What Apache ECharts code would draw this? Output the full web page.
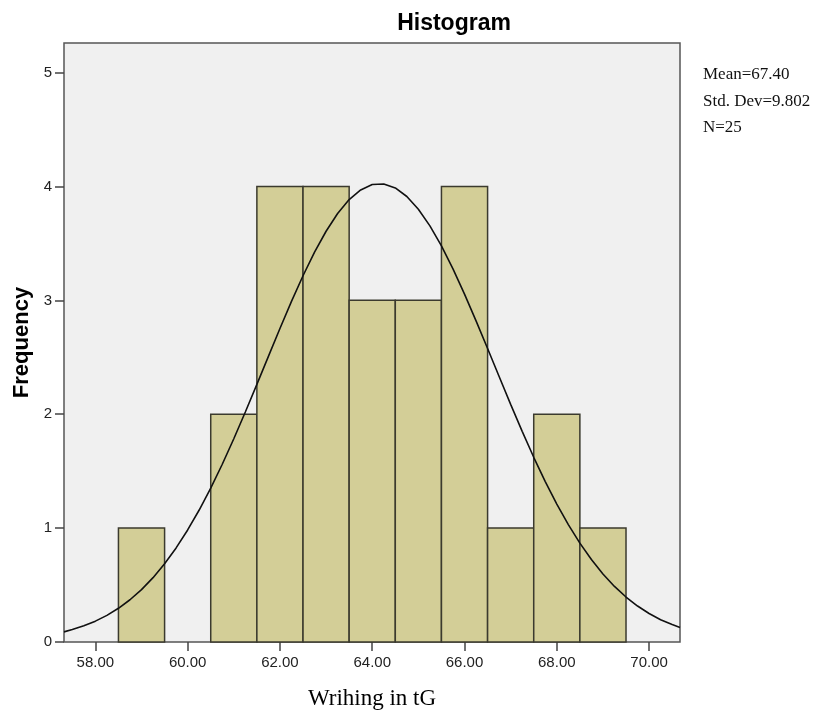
<!DOCTYPE html>
<html lang="en">
	<head>
		<meta charset="UTF-8">
		<title>Histogram</title>
		<script src="https://cdn.jsdelivr.net/npm/echarts@6/dist/echarts.min.js"></script>
		<style>
			html, body { margin: 0; padding: 0; background: #fff; }
			#histChart { width: 813px; height: 715px; }
		</style>
	</head>
	<body>
		<div id="histChart"></div>

		<script>
			// histogram bins (start, end) and frequencies
			const binStarts = [58.5, 60.5, 61.5, 62.5, 63.5, 64.5, 65.5, 66.5, 67.5, 68.5];
			const binEnds = [59.5, 61.5, 62.5, 63.5, 64.5, 65.5, 66.5, 67.5, 68.5, 69.5];
			const counts = [1, 2, 4, 4, 3, 3, 4, 1, 2, 1];

			// normal curve
			const curveX = [57.32, 57.5, 57.75, 58, 58.25, 58.5, 58.75, 59, 59.25, 59.5, 59.75, 60, 60.25, 60.5, 60.75,
				61, 61.25, 61.5, 61.75, 62, 62.25, 62.5, 62.75, 63, 63.25, 63.5, 63.75, 64, 64.25, 64.5, 64.75,
				65, 65.25, 65.5, 65.75, 66, 66.25, 66.5, 66.75, 67, 67.25, 67.5, 67.75, 68, 68.25, 68.5, 68.75,
				69, 69.25, 69.5, 69.75, 70, 70.25, 70.5, 70.67];
			const curveY = [0.089, 0.109, 0.142, 0.183, 0.234, 0.296, 0.371, 0.46, 0.565, 0.687, 0.826, 0.984, 1.159, 1.352, 1.561,
				1.785, 2.02, 2.262, 2.508, 2.753, 2.991, 3.216, 3.423, 3.607, 3.763, 3.885, 3.97, 4.017, 4.022, 3.987, 3.912,
				3.8, 3.654, 3.478, 3.276, 3.055, 2.82, 2.577, 2.331, 2.087, 1.85, 1.622, 1.409, 1.211, 1.031, 0.868, 0.724,
				0.597, 0.488, 0.395, 0.316, 0.25, 0.196, 0.153, 0.128];

			// tick labels
			const xTicks = [58, 60, 62, 64, 66, 68, 70];
			const yTicks = [0, 1, 2, 3, 4, 5];

			const statLines = ['Mean=67.40', 'Std. Dev=9.802', 'N=25'];

			const histDom = document.getElementById('histChart');
			const histChart = echarts.init(histDom);

			const barData = counts.map((c, i) => [binStarts[i], binEnds[i], c]);
			const curveData = curveX.map((x, i) => [x, curveY[i]]);

			const histOpt = {
				animation: false,
				title: {
					text: 'Histogram',
					left: 449,
					textAlign: 'center',
					top: 7,
					textStyle: {
						fontFamily: 'Liberation Sans',
						fontSize: 23,
						fontWeight: 'bold',
						color: '#000'
					}
				},
				grid: {
					left: 64,
					right: 133,
					top: 43,
					bottom: 71,
					show: true,
					backgroundColor: '#f0f0f0',
					borderColor: '#555',
					borderWidth: 1.5
				},
				xAxis: {
					type: 'value',
					min: 57.32,
					max: 70.67,
					name: 'Wrihing in tG',
					nameLocation: 'middle',
					nameGap: 45,
					nameTextStyle: {
						fontFamily: 'Liberation Serif',
						fontSize: 23,
						color: '#000'
					},
					axisLine: { show: false },
					splitLine: { show: false },
					axisTick: {
						show: true,
						length: 9,
						customValues: xTicks,
						lineStyle: { color: '#444', width: 1.5 }
					},
					axisLabel: {
						customValues: xTicks,
						formatter: v => v.toFixed(2),
						margin: 13,
						fontFamily: 'Liberation Sans',
						fontSize: 15,
						color: '#222'
					}
				},
				yAxis: {
					type: 'value',
					min: 0,
					max: 5.26,
					name: 'Frequency',
					nameLocation: 'middle',
					nameGap: 31,
					nameTextStyle: {
						fontFamily: 'Liberation Sans',
						fontSize: 22,
						fontWeight: 'bold',
						color: '#000'
					},
					axisLine: { show: false },
					splitLine: { show: false },
					axisTick: {
						show: true,
						length: 9,
						customValues: yTicks,
						lineStyle: { color: '#444', width: 1.5 }
					},
					axisLabel: {
						customValues: yTicks,
						margin: 12,
						fontFamily: 'Liberation Sans',
						fontSize: 15,
						color: '#222'
					}
				},
				graphic: statLines.map((t, i) => ({
					type: 'text',
					left: 703,
					top: 66 + i * 26.7,
					style: {
						text: t,
						font: '17px "Liberation Serif"',
						fill: '#111'
					}
				})),
				series: [
					{
						type: 'custom',
						data: barData,
						encode: { x: [0, 1], y: 2 },
						renderItem: (params, api) => {
							const p0 = api.coord([api.value(0), api.value(2)]);
							const p1 = api.coord([api.value(1), 0]);
							return {
								type: 'rect',
								shape: { x: p0[0], y: p0[1], width: p1[0] - p0[0], height: p1[1] - p0[1] },
								style: { fill: '#d3ce97', stroke: '#3b3a2e', lineWidth: 1.5 }
							};
						}
					},
					{
						type: 'line',
						data: curveData,
						smooth: false,
						showSymbol: false,
						lineStyle: { color: '#111', width: 1.6 },
						z: 5
					}
				]
			};

			histChart.setOption(histOpt);
		</script>
	</body>
</html>
